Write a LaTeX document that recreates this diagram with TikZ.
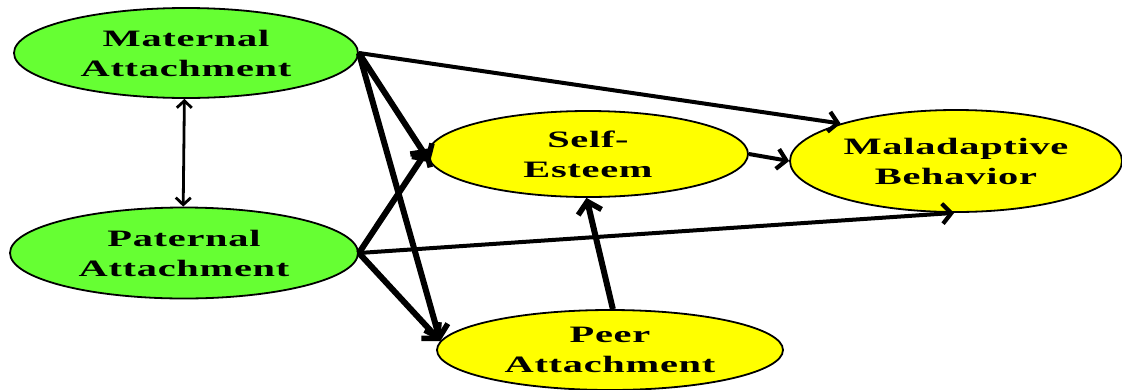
\documentclass[tikz,border=0pt]{standalone}
\usepackage{fontspec}
\usetikzlibrary{shapes.geometric,arrows.meta}
\newfontfamily\lbl{Liberation Serif}[FakeStretch=1.72,LetterSpace=3]
\definecolor{mgreen}{HTML}{66FF33}
\definecolor{myellow}{HTML}{FFFF00}
\tikzset{
  ell/.style={ellipse, draw=black, line width=1.8pt, inner sep=0pt, align=center,
    font=\lbl\bfseries\fontsize{23.5}{30}\selectfont},
  gnode/.style={ell, fill=mgreen},
  ynode/.style={ell, fill=myellow},
  thickarr/.style={line width=6pt, -{Straight Barb[length=11pt,width=24pt,line width=5.5pt]}},
  medarr/.style={line width=4pt, -{Straight Barb[length=9pt,width=20pt,line width=4.2pt]}},
  thinarr/.style={line width=2.8pt, {Straight Barb[length=7pt,width=15pt,line width=2.8pt]}-{Straight Barb[length=7pt,width=15pt,line width=2.8pt]}}
}
\begin{document}
\begin{tikzpicture}[x=1pt,y=-1pt]
\useasboundingbox (0,0) rectangle (1122,389);
\node[gnode, minimum width=344pt, minimum height=90pt] (mat) at (186,53) {Maternal\\Attachment};
\node[gnode, minimum width=348pt, minimum height=91pt] (pat) at (184,253) {Paternal\\Attachment};
\node[ynode, minimum width=320pt, minimum height=86pt] (se) at (588,154) {Self-\\Esteem};
\node[ynode, minimum width=332pt, minimum height=102pt] (mal) at (956,161) {Maladaptive\\Behavior};
\node[ynode, minimum width=346pt, minimum height=80pt] (peer) at (610,350) {Peer\\Attachment};

\draw[medarr] (mat.east) -- (mal.162);
\draw[thickarr] (mat.east) -- (se.183);
\draw[thickarr] (mat.east) -- (peer.177);
\draw[thickarr] (pat.east) -- (se.178);
\draw[medarr] (pat.east) -- (mal.268);
\draw[thickarr] (pat.east) -- (peer.177);
\draw[medarr] (se.east) -- (mal.west);
\draw[thickarr] (peer.86) -- (se.268);
\draw[thinarr] (mat.268) -- (pat.91);
\end{tikzpicture}
\end{document}
